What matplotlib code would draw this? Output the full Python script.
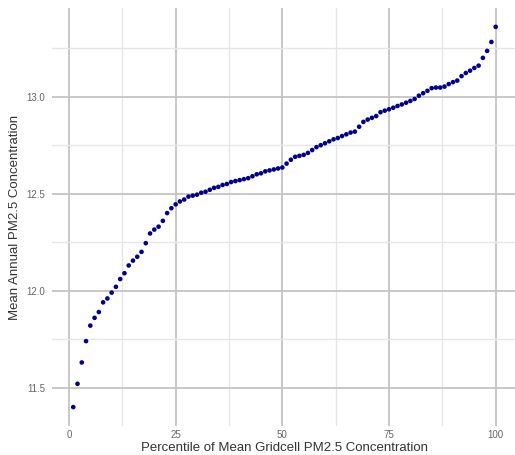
import matplotlib
matplotlib.use("Agg")
import matplotlib.pyplot as plt
import numpy as np
from matplotlib.ticker import MultipleLocator

plt.rcParams['font.family'] = ['Liberation Sans', 'DejaVu Sans']

# percentile rank of gridcell mean concentration
percentile = list(range(1, 101))
# mean annual PM2.5 within each percentile
pm25 = [
    11.40, 11.52, 11.63, 11.74, 11.82, 11.86, 11.89, 11.94, 11.96, 11.99,
    12.02, 12.06, 12.09, 12.13, 12.155, 12.175, 12.20, 12.245, 12.295, 12.315,
    12.33, 12.36, 12.40, 12.425, 12.445, 12.46, 12.47, 12.485, 12.49, 12.495,
    12.505, 12.51, 12.52, 12.53, 12.535, 12.545, 12.55, 12.56, 12.565, 12.57,
    12.575, 12.58, 12.59, 12.60, 12.605, 12.615, 12.62, 12.625, 12.63, 12.635,
    12.655, 12.675, 12.69, 12.695, 12.70, 12.71, 12.725, 12.74, 12.75, 12.76,
    12.77, 12.78, 12.787, 12.797, 12.806, 12.815, 12.82, 12.845, 12.87, 12.882,
    12.891, 12.90, 12.92, 12.928, 12.935, 12.943, 12.952, 12.96, 12.969, 12.978,
    12.988, 13.005, 13.018, 13.03, 13.044, 13.047, 13.047, 13.052, 13.065, 13.075,
    13.083, 13.106, 13.122, 13.134, 13.148, 13.16, 13.20, 13.236, 13.282, 13.36,
]

fig = plt.figure(figsize=(5.15, 4.55), dpi=100)
# panel runs right up to (and a touch past) the right edge
ax = fig.add_axes([0.1012, 0.0635, 0.9023, 0.9193])

ax.scatter(percentile, pm25, s=11, color="#00008B", edgecolors="none", zorder=3)

# ggplot-like 5% padding around the data
x = np.array(percentile)
y = np.array(pm25)
xpad = (x.max() - x.min()) * 0.05
ypad = (y.max() - y.min()) * 0.05
ax.set_xlim(x.min() - xpad, x.max() + xpad)
ax.set_ylim(y.min() - ypad, y.max() + ypad)

ax.xaxis.set_minor_locator(MultipleLocator(12.5))
ax.yaxis.set_major_locator(MultipleLocator(0.5))
ax.yaxis.set_minor_locator(MultipleLocator(0.25))
ax.set_xticks([0, 25, 50, 75, 100])
ax.set_xticklabels(["0", "25", "50", "75", "100"])
ax.set_yticks([11.5, 12.0, 12.5, 13.0])
ax.set_yticklabels(["11.5", "12.0", "12.5", "13.0"])

ax.grid(which="major", color="#c4c4c4", linewidth=1.3)
ax.grid(which="minor", color="#e6e6e6", linewidth=1.0)
ax.set_axisbelow(True)
for side in ax.spines.values():
    side.set_visible(False)
ax.tick_params(which="both", length=0, labelsize=7, labelcolor="#666666")
ax.tick_params(axis="x", pad=3)
ax.tick_params(axis="y", pad=5)

ax.set_xlabel("Percentile of Mean Gridcell PM2.5 Concentration", fontsize=9.5, color="#333333", labelpad=1)
ax.set_ylabel("Mean Annual PM2.5 Concentration", fontsize=9.5, color="#333333", labelpad=4)

fig.savefig("out.png", dpi=100)
